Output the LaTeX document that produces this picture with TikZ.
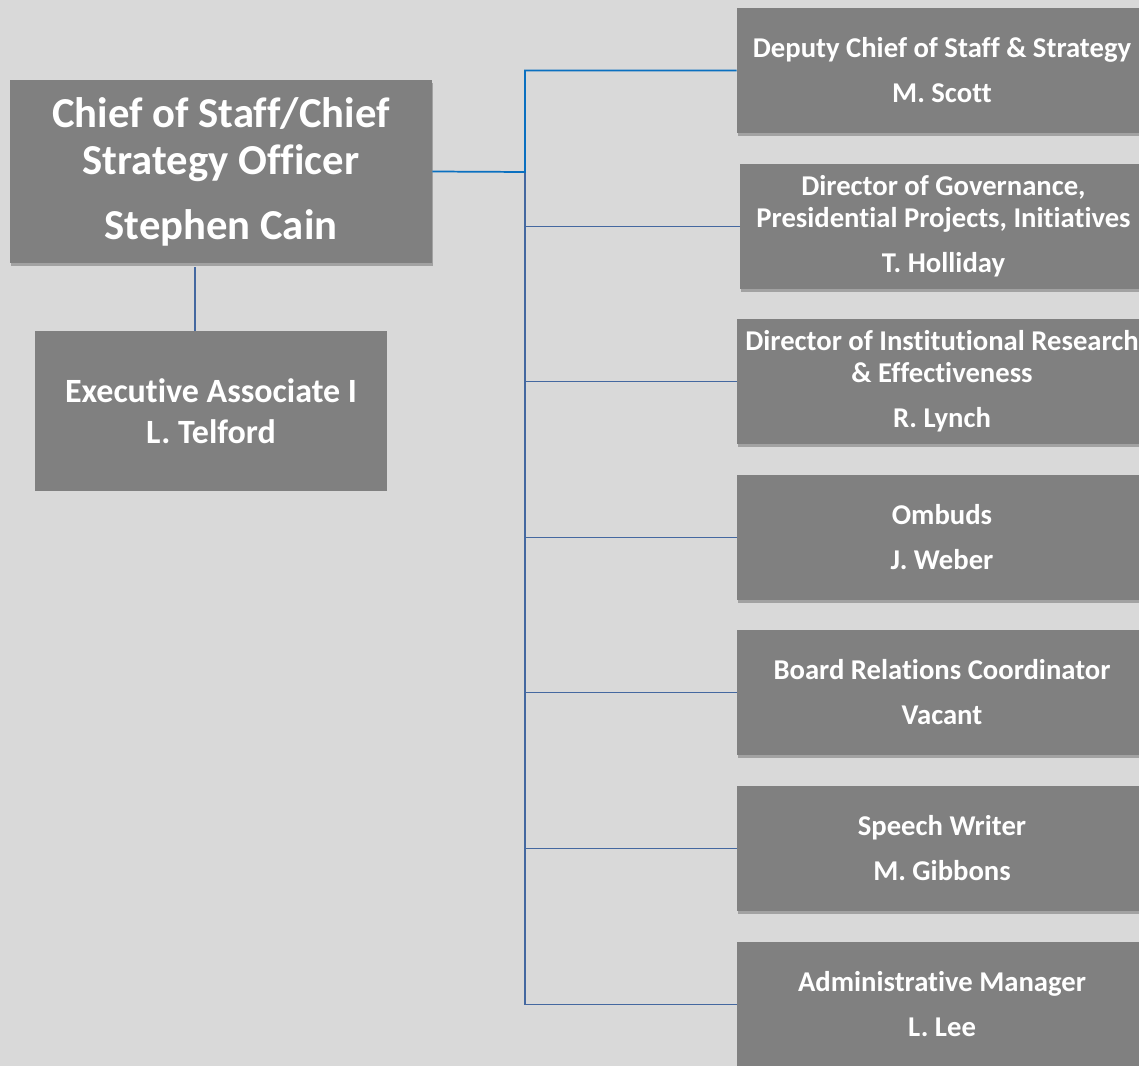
\documentclass[tikz,border=0pt]{standalone}
\usepackage{fontspec}
\setmainfont{Carlito}[RawFeature={-liga;-clig;-dlig;-calt}]
\usetikzlibrary{shadows}
\definecolor{bg}{HTML}{D9D9D9}
\definecolor{boxgray}{HTML}{808080}
\definecolor{linkA}{HTML}{0A70C0}
\definecolor{linkB}{RGB}{68,104,160}
\tikzset{
  orgbox/.style={fill=boxgray, draw=none, text=white, inner sep=0pt, align=center, font=\bfseries},
  shadowed/.style={drop shadow={shadow xshift=1pt, shadow yshift=-2.5pt, opacity=0.25, fill=black}},
  rightbox/.style={orgbox, shadowed, minimum width=307.5pt, minimum height=93.75pt, font=\bfseries\fontsize{21.5}{24}\selectfont},
  conA/.style={draw=linkA, line width=1.3pt},
  conB/.style={draw=linkB, line width=1.3pt}
}
\begin{document}
\begin{tikzpicture}[x=0.75pt, y=-0.75pt]
\useasboundingbox (0,0) rectangle (1139,1066);
\clip (0,0) rectangle (1139,1066);
\fill[bg] (0,0) rectangle (1139,1066);

% named points for the bus and the assistant link
\coordinate (bus) at (525,172);
\coordinate (exlink) at (195,0);

\node[orgbox, shadowed, minimum width=316.5pt, minimum height=137.25pt, font=\bfseries\fontsize{32}{35.25}\selectfont] (chief) at (221,171.5)
  {Chief of Staff/Chief\\Strategy Officer\\[13.5pt]Stephen Cain};
\node[orgbox, minimum width=264pt, minimum height=120pt, font=\bfseries\fontsize{25.5}{30.75}\selectfont] (exec) at (211,411)
  {Executive Associate I\\L. Telford};

\node[rightbox] (dep) at (942,70.5) {Deputy Chief of Staff \& Strategy\\[9.75pt]M. Scott};
\node[rightbox, minimum width=305.25pt] (gov) at (943.5,226.5) {Director of Governance,\\Presidential Projects, Initiatives\\[9.75pt]T. Holliday};
\node[rightbox] (inst) at (942,381.5) {Director of Institutional Research\\\& Effectiveness\\[9.75pt]R. Lynch};
\node[rightbox] (omb) at (942,537.5) {Ombuds\\[9.75pt]J. Weber};
\node[rightbox] (board) at (942,692.5) {Board Relations Coordinator\\[9.75pt]Vacant};
\node[rightbox] (speech) at (942,848.5) {Speech Writer\\[9.75pt]M. Gibbons};
\node[rightbox] (admin) at (942,1004.5) {Administrative Manager\\[9.75pt]L. Lee};

\draw[conB] (bus) |- (gov.west);
\draw[conB] (bus) |- (inst.west);
\draw[conB] (bus) |- (omb.west);
\draw[conB] (bus) |- (board.west);
\draw[conB] (bus) |- (speech.west);
\draw[conB] (bus) |- (admin.west);
\draw[conA] (chief.east) -- (bus) |- (dep.west);
\draw[conB, shorten <=3pt] (chief.south -| exlink) -- (exec.north -| exlink);
\end{tikzpicture}
\end{document}
